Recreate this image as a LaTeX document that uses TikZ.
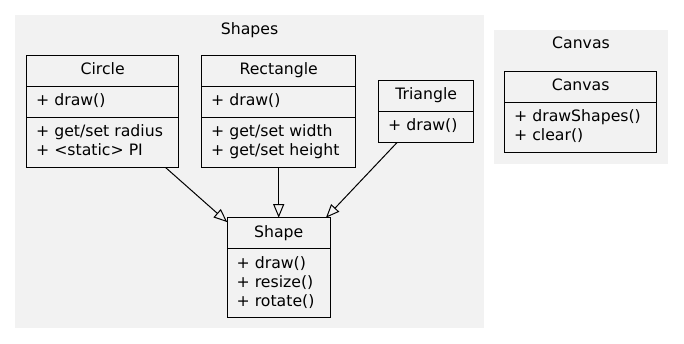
\documentclass[tikz,border=0pt]{standalone}
\usepackage{fontspec}
\setmainfont{DejaVu Sans}
\usetikzlibrary{arrows.meta, positioning, shapes.multipart}
\definecolor{clusterbg}{HTML}{F2F2F2}

\begin{document}
\begin{tikzpicture}[x=1pt, y=-1pt, node distance=23pt,
    font=\fontsize{15.7}{19}\selectfont,
    umlclass/.style={draw, line width=1pt, fill=clusterbg, rectangle split, rectangle split parts=#1,
        rectangle split part align={center,left,left}, align=left,
        inner xsep=9.5pt, inner ysep=5.5pt, outer sep=0pt},
    cluster/.style={fill=clusterbg},
    clustertitle/.style={anchor=base, inner sep=0pt},
    extends/.style={line width=1pt, -{Triangle[open, length=13.5pt, width=11pt]}}]
    % Page and cluster backgrounds
    \useasboundingbox (0,0) rectangle (684,344);
    \fill[white] (0,0) rectangle (684,344);
    \path[cluster] (15,15) rectangle (484,328);
    \path[cluster] (494,30) rectangle (668,164);
    \node[clustertitle] (shapestitle) at (249.5,35) {Shapes};
    \node[clustertitle] (canvastitle) at (581,49) {Canvas};

    % Concrete shapes
    \node[umlclass=3, minimum width=152pt] (circle) at (102.7,111.7)
        {\strut Circle
         \nodepart{two}\strut + draw()
         \nodepart{three}\strut + get/set radius\\\strut + <static> PI};
    \node[umlclass=3, minimum width=154pt, right=of circle] (rectangle)
        {\strut Rectangle
         \nodepart{two}\strut + draw()
         \nodepart{three}\strut + get/set width\\\strut + get/set height};
    \node[umlclass=2, minimum width=95pt, right=of rectangle] (triangle)
        {\strut Triangle
         \nodepart{two}\strut + draw()};

    % Base class
    \node[umlclass=2, minimum width=103pt, below=50pt of rectangle] (shape)
        {\strut Shape
         \nodepart{two}\strut + draw()\\\strut + resize()\\\strut + rotate()};

    % Canvas
    \node[umlclass=2, minimum width=152pt, right=31pt of triangle] (canvas)
        {\strut Canvas
         \nodepart{two}\strut + drawShapes()\\\strut + clear()};

    % Generalisations
    \draw[extends] (circle) -- (shape);
    \draw[extends] (rectangle) -- (shape);
    \draw[extends] (triangle) -- (shape);
\end{tikzpicture}
\end{document}
